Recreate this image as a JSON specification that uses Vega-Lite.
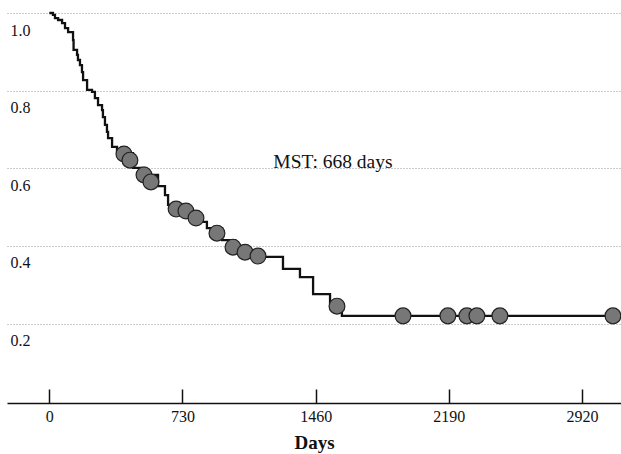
{
  "$schema": "https://vega.github.io/schema/vega-lite/v6.json",
  "autosize": "none",
  "padding": {"left": 7, "top": 0, "right": 0, "bottom": 51},
  "width": 614,
  "height": 403,
  "background": "white",
  "config": {"view": {"stroke": null}},
  "datasets": {
    "curve": [
      {"day": 0, "surv": 1.0},
      {"day": 20, "surv": 0.995},
      {"day": 31, "surv": 0.987},
      {"day": 48, "surv": 0.982},
      {"day": 70, "surv": 0.974},
      {"day": 86, "surv": 0.961},
      {"day": 103, "surv": 0.951},
      {"day": 130, "surv": 0.930},
      {"day": 133, "surv": 0.905},
      {"day": 152, "surv": 0.892},
      {"day": 157, "surv": 0.879},
      {"day": 168, "surv": 0.866},
      {"day": 179, "surv": 0.848},
      {"day": 185, "surv": 0.827},
      {"day": 207, "surv": 0.802},
      {"day": 234, "surv": 0.797},
      {"day": 250, "surv": 0.781},
      {"day": 267, "surv": 0.763},
      {"day": 289, "surv": 0.750},
      {"day": 294, "surv": 0.732},
      {"day": 305, "surv": 0.712},
      {"day": 316, "surv": 0.694},
      {"day": 322, "surv": 0.678},
      {"day": 344, "surv": 0.655},
      {"day": 371, "surv": 0.647},
      {"day": 399, "surv": 0.639},
      {"day": 459, "surv": 0.601},
      {"day": 525, "surv": 0.583},
      {"day": 596, "surv": 0.554},
      {"day": 634, "surv": 0.531},
      {"day": 651, "surv": 0.506},
      {"day": 716, "surv": 0.493},
      {"day": 782, "surv": 0.480},
      {"day": 826, "surv": 0.462},
      {"day": 864, "surv": 0.446},
      {"day": 947, "surv": 0.415},
      {"day": 1018, "surv": 0.395},
      {"day": 1100, "surv": 0.382},
      {"day": 1166, "surv": 0.372},
      {"day": 1281, "surv": 0.341},
      {"day": 1374, "surv": 0.320},
      {"day": 1446, "surv": 0.276},
      {"day": 1539, "surv": 0.253},
      {"day": 1604, "surv": 0.220},
      {"day": 3134, "surv": 0.220}
    ],
    "censor": [
      {"day": 409, "surv": 0.637},
      {"day": 442, "surv": 0.621},
      {"day": 519, "surv": 0.583},
      {"day": 557, "surv": 0.565},
      {"day": 695, "surv": 0.495},
      {"day": 749, "surv": 0.490},
      {"day": 804, "surv": 0.472},
      {"day": 919, "surv": 0.433},
      {"day": 1007, "surv": 0.397},
      {"day": 1073, "surv": 0.384},
      {"day": 1144, "surv": 0.374},
      {"day": 1577, "surv": 0.245},
      {"day": 1939, "surv": 0.220},
      {"day": 2185, "surv": 0.220},
      {"day": 2289, "surv": 0.220},
      {"day": 2344, "surv": 0.220},
      {"day": 2470, "surv": 0.220},
      {"day": 3090, "surv": 0.220}
    ],
    "note": [
      {"day": 1555, "surv": 0.616, "label": "MST: 668 days"}
    ]
  },
  "layer": [
    {
      "data": {"name": "curve"},
      "mark": {"type": "line", "interpolate": "step-after", "color": "#111", "strokeWidth": 2.3},
      "encoding": {
        "x": {
          "field": "day", "type": "quantitative",
          "scale": {"domain": [-232, 3134], "nice": false, "zero": false},
          "axis": {
            "values": [0, 730, 1460, 2190, 2920],
            "format": "d",
            "grid": false,
            "domainColor": "#111", "domainWidth": 1.5,
            "tickColor": "#111", "tickWidth": 1.5, "tickSize": -14,
            "labelFont": "Liberation Serif", "labelFontSize": 16, "labelColor": "#111",
            "labelPadding": 19,
            "title": "Days",
            "titleFont": "Liberation Serif", "titleFontSize": 19, "titleFontWeight": "bold", "titleColor": "#111",
            "titlePadding": 9
          }
        },
        "y": {
          "field": "surv", "type": "quantitative",
          "scale": {"domain": [-0.0044, 1.0335], "nice": false, "zero": false},
          "axis": {
            "values": [0.2, 0.4, 0.6, 0.8, 1.0],
            "format": ".1f",
            "grid": true, "gridColor": "#999", "gridDash": [1, 2], "gridWidth": 1,
            "domain": false, "ticks": false,
            "labelAlign": "left", "labelPadding": -3, "labelOffset": 17,
            "labelFont": "Liberation Serif", "labelFontSize": 16, "labelColor": "#111",
            "title": null
          }
        }
      }
    },
    {
      "data": {"name": "censor"},
      "mark": {"type": "point", "shape": "circle", "filled": true, "size": 250, "color": "#777", "stroke": "#222", "strokeWidth": 1.2, "opacity": 1},
      "encoding": {
        "x": {"field": "day", "type": "quantitative"},
        "y": {"field": "surv", "type": "quantitative"}
      }
    },
    {
      "data": {"name": "note"},
      "mark": {"type": "text", "font": "Liberation Serif", "fontSize": 19.5, "color": "#111", "align": "center", "baseline": "middle"},
      "encoding": {
        "x": {"field": "day", "type": "quantitative"},
        "y": {"field": "surv", "type": "quantitative"},
        "text": {"field": "label"}
      }
    }
  ]
}
